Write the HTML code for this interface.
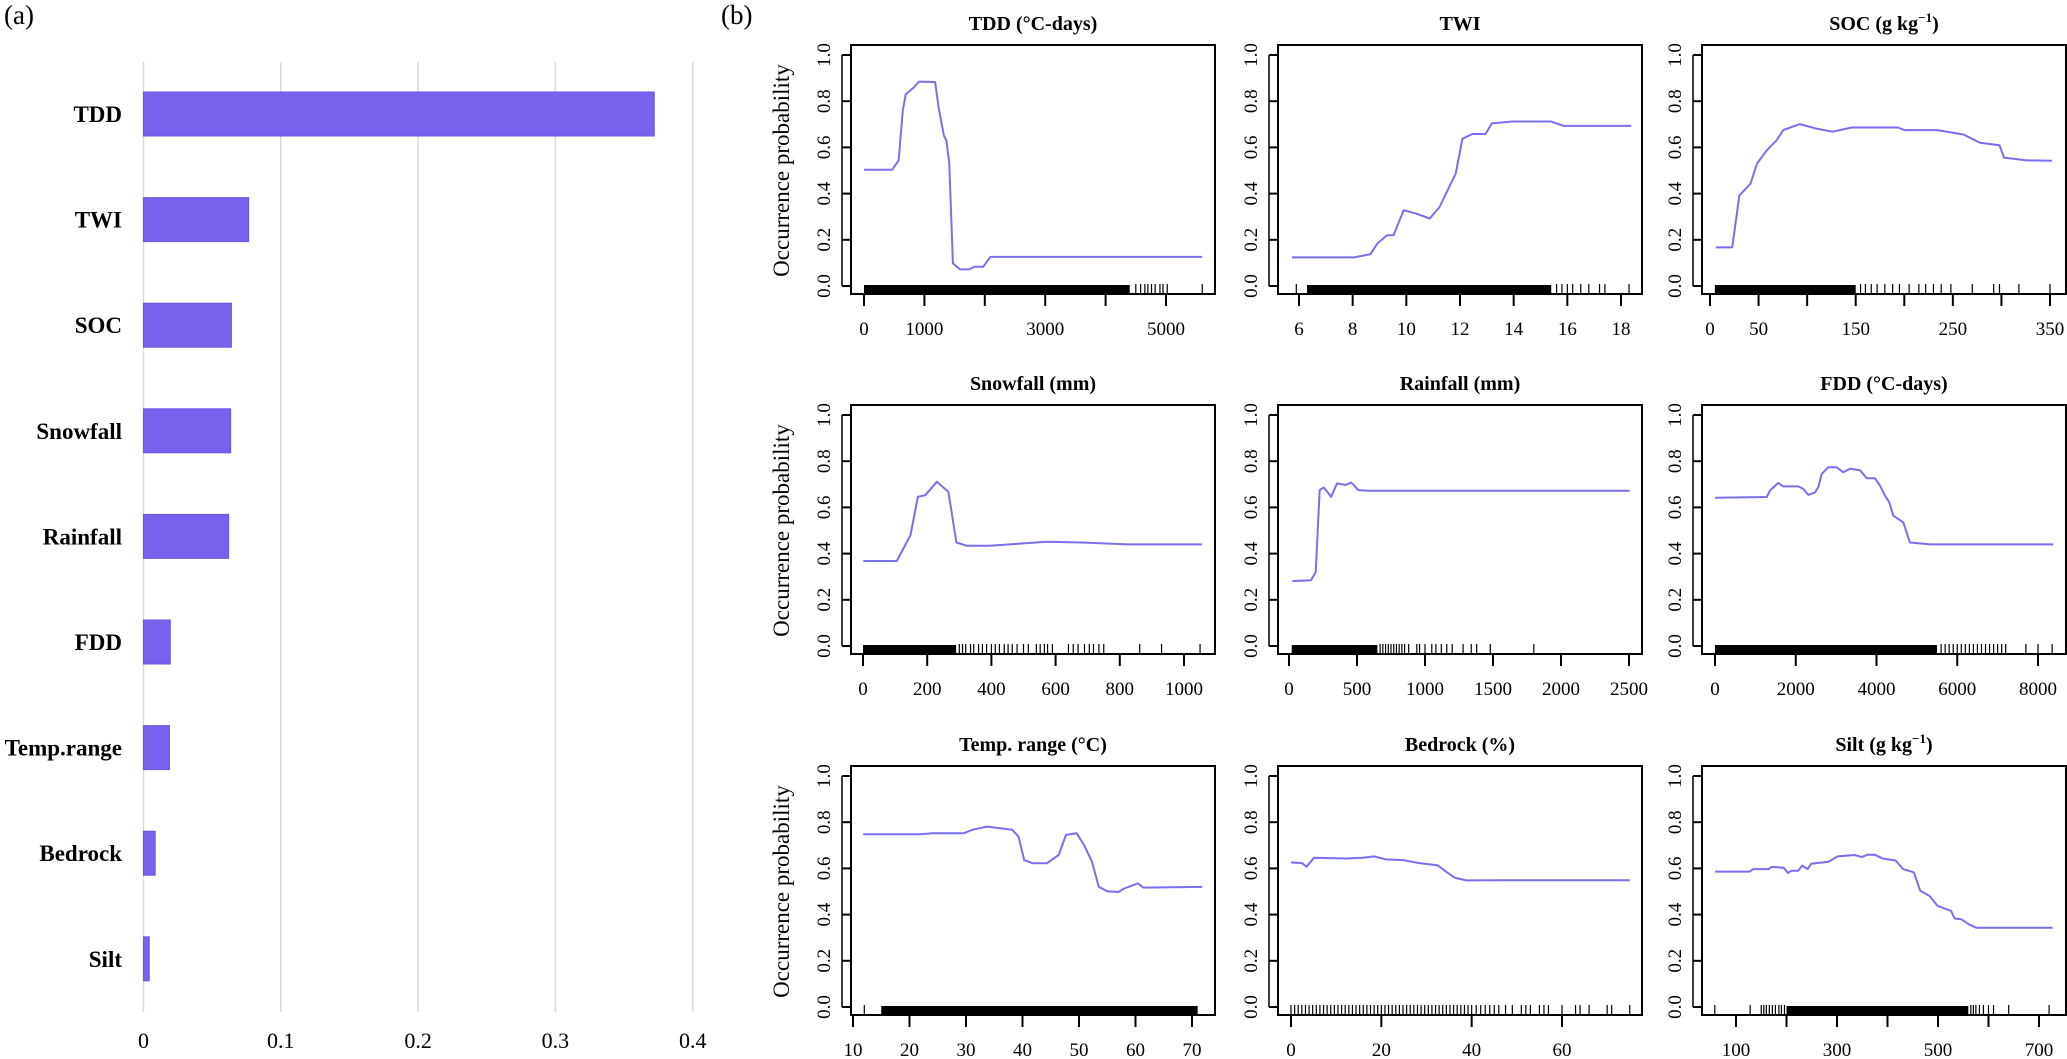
<!DOCTYPE html>
<html><head><meta charset="utf-8">
<style>
html,body{margin:0;padding:0;background:#fff;}
svg{display:block;font-family:"Liberation Serif",serif;}
</style></head>
<body>
<svg id="fig" width="2067" height="1059" viewBox="0 0 2067 1059" xmlns="http://www.w3.org/2000/svg">
<text x="4" y="24" font-size="27">(a)</text>
<text x="721" y="24" font-size="27">(b)</text>
<g id="barChart"></g>
<g id="pdp"></g>
</svg>
<script>
// ---------- (a) variable importance ----------
const barCategories = ["TDD","TWI","SOC","Snowfall","Rainfall","FDD","Temp.range","Bedrock","Silt"];
const barValues = [0.372, 0.0766, 0.064, 0.0635, 0.062, 0.0195, 0.0189, 0.0085, 0.0042];
const barTicks = [0, 0.1, 0.2, 0.3, 0.4];
const barTickLabels = ["0","0.1","0.2","0.3","0.4"];

// ---------- (b) partial dependence data ----------
const tddX = [0,465,573,643,690,821,909,1177,1235,1323,1364,1412,1472,1590,1737,1826,1974,2093,5600];
const tddY = [0.503,0.503,0.543,0.759,0.83,0.859,0.885,0.883,0.773,0.651,0.629,0.529,0.098,0.072,0.072,0.083,0.083,0.126,0.126];
const tddTicks = [0,1000,2000,3000,4000,5000];
const tddLabels = ["0","1000","","3000","","5000"];
const tddRugDense = [[0,4400]];
const tddRug = [4500,4580,4650,4700,4760,4820,4900,4950,5020,5600];

const twiX = [5.74,8.06,8.67,8.92,9.28,9.52,9.9,10.38,10.87,11.24,11.48,11.84,12.09,12.46,12.95,13.19,13.95,15.39,15.87,18.38];
const twiY = [0.124,0.124,0.138,0.184,0.22,0.22,0.328,0.313,0.292,0.342,0.4,0.486,0.637,0.658,0.658,0.704,0.712,0.712,0.693,0.693];
const twiTicks = [6,8,10,12,14,16,18];
const twiLabels = ["6","8","10","12","14","16","18"];
const twiRugDense = [[6.3,15.4]];
const twiRug = [5.9,15.6,15.8,16.0,16.2,16.5,16.8,17.2,17.4,18.3];

const socX = [6,22.9,30.3,41.7,48.4,58.6,68.7,75.5,92.3,109,126,146,193.4,200,234,261,278,298,302.7,325,352];
const socY = [0.167,0.167,0.392,0.443,0.53,0.588,0.631,0.675,0.701,0.682,0.668,0.686,0.686,0.675,0.675,0.656,0.62,0.609,0.556,0.544,0.542];
const socTicks = [0,50,100,150,200,250,300,350];
const socLabels = ["0","50","","150","","250","","350"];
const socRugDense = [[5,150]];
const socRug = [155,160,166,172,180,188,195,205,215,222,230,238,248,270,292,298,318,350];

const snowX = [1,105,126,148,171,194,230,266,291,323,394,573,681,824,1056];
const snowY = [0.368,0.368,0.422,0.48,0.646,0.653,0.711,0.667,0.448,0.434,0.434,0.451,0.448,0.44,0.44];
const snowTicks = [0,200,400,600,800,1000];
const snowLabels = ["0","200","400","600","800","1000"];
const snowRugDense = [[0,290]];
const snowRug = [300,310,320,335,345,360,372,385,400,412,425,440,452,465,480,500,515,540,552,565,575,590,640,655,670,690,705,718,735,750,862,930,1050];

const rainX = [24,162,196,226,255,310,353,415,458,509,585,2505];
const rainY = [0.281,0.285,0.32,0.675,0.686,0.646,0.704,0.697,0.708,0.675,0.672,0.672];
const rainTicks = [0,500,1000,1500,2000,2500];
const rainLabels = ["0","500","1000","1500","2000","2500"];
const rainRugDense = [[20,650]];
const rainRug = [670,690,710,730,750,770,790,810,830,850,880,940,960,1000,1050,1080,1120,1160,1200,1280,1340,1380,1480,1800];

const fddX = [2,1280,1362,1568,1692,2063,2187,2311,2477,2559,2642,2807,3013,3178,3343,3591,3757,3963,4087,4211,4318,4417,4664,4830,5325,8380];
const fddY = [0.642,0.645,0.673,0.706,0.691,0.691,0.68,0.654,0.665,0.687,0.745,0.774,0.774,0.752,0.767,0.761,0.726,0.726,0.694,0.651,0.622,0.564,0.535,0.448,0.44,0.44];
const fddTicks = [0,2000,4000,6000,8000];
const fddLabels = ["0","2000","4000","6000","8000"];
const fddRugDense = [[0,5500]];
const fddRug = [5600,5700,5800,5900,6000,6100,6200,6300,6400,6500,6600,6700,6800,6900,7000,7100,7200,7700,8000,8350];

const tempX = [11.8,22,24,29.6,31.1,33.7,38.2,39.3,40.3,41.8,44.3,46.4,47.7,49.6,50.9,52.3,53.5,55,57,58,60.4,61.4,71.8];
const tempY = [0.748,0.748,0.752,0.752,0.767,0.781,0.767,0.738,0.636,0.622,0.622,0.658,0.745,0.752,0.701,0.629,0.52,0.501,0.498,0.513,0.535,0.517,0.52];
const tempTicks = [10,20,30,40,50,60,70];
const tempLabels = ["10","20","30","40","50","60","70"];
const tempRugDense = [[15,71]];
const tempRug = [12];

const bedX = [0,2.5,3.4,5.1,12.1,15.9,18.4,21,24.8,28.6,32.4,34.3,36.2,38.8,46.4,75];
const bedY = [0.626,0.622,0.607,0.646,0.643,0.646,0.652,0.639,0.636,0.622,0.614,0.586,0.56,0.548,0.549,0.549];
const bedTicks = [0,20,40,60];
const bedLabels = ["0","20","40","60"];
const bedRugDense = [];
const bedRug = [0,0.8,1.6,2.4,3.2,4,4.8,5.6,6.4,7.2,8,8.8,9.6,10.4,11.2,12,12.8,13.6,14.4,15.2,16,16.8,17.6,18.4,19.2,20,20.8,21.6,22.4,23.2,24,24.8,25.6,26.4,27.2,28,28.8,29.6,30.4,31.2,32,32.8,33.6,34.4,35.2,36,36.8,37.6,38.4,39.2,40,41,42,43,44,45,46,47.5,49,51,52,53,55,56,57,60,63,64,66,70,71,75];

const siltX = [58.6,127,134,164,171,194,203,210,223,231,242,249,283,301,335,349,360,375,390,416,431,452,465,483,499,526,533,546,561,576,727];
const siltY = [0.586,0.586,0.597,0.597,0.606,0.603,0.58,0.59,0.59,0.612,0.597,0.62,0.629,0.652,0.658,0.649,0.659,0.659,0.643,0.634,0.597,0.583,0.503,0.481,0.438,0.416,0.383,0.38,0.358,0.343,0.343];
const siltTicks = [100,200,300,400,500,600,700];
const siltLabels = ["100","","300","","500","","700"];
const siltRugDense = [[200,560]];
const siltRug = [58,128,150,155,160,166,172,178,185,190,196,565,570,575,582,590,600,610,640,720];

const yTicks = [0,0.2,0.4,0.6,0.8,1.0];
const yTickLabels = ["0.0","0.2","0.4","0.6","0.8","1.0"];

const NS = "http://www.w3.org/2000/svg";
function mk(tag, attrs, parent){
  const e = document.createElementNS(NS, tag);
  for (const k in attrs) e.setAttribute(k, attrs[k]);
  parent.appendChild(e);
  return e;
}

// ---- bar chart ----
(function(){
  const g = document.getElementById('barChart');
  const x0 = 143.5, unit = 1373; // px per 1.0
  const xs = v => x0 + v*unit;
  const yTop = 114, step = 105.6, bh = 44;
  barTicks.forEach((t,i)=>{
    const l = mk('line',{x1:xs(t),x2:xs(t),y1:62,y2:1012,stroke:'#d9d9d9','stroke-width':1.5},g);
    
    
    const tx = mk('text',{x:xs(t),y:1048,'font-size':22,'text-anchor':'middle'},g);
    tx.textContent = barTickLabels[i];
    
    
  });
  barCategories.forEach((c,i)=>{
    const cy = yTop + i*step;
    const r = mk('rect',{x:xs(0),y:cy-bh/2,width:xs(barValues[i])-xs(0),height:bh,fill:'#7762EE',stroke:'#6a55e8','stroke-width':1},g);
    
    
    const t = mk('text',{x:122,y:cy+8,'font-size':23,'font-weight':'bold','text-anchor':'end'},g);
    t.textContent = c;
    
    
  });
})();

// ---- partial dependence panels ----
const panels = [
  {title:'TDD (°C-days)', xs:tddX, ys:tddY, ticks:tddTicks, labels:tddLabels, dense:tddRugDense, rug:tddRug},
  {title:'TWI', xs:twiX, ys:twiY, ticks:twiTicks, labels:twiLabels, dense:twiRugDense, rug:twiRug},
  {title:'SOC (g kg', sup:true, xs:socX, ys:socY, ticks:socTicks, labels:socLabels, dense:socRugDense, rug:socRug},
  {title:'Snowfall (mm)', xs:snowX, ys:snowY, ticks:snowTicks, labels:snowLabels, dense:snowRugDense, rug:snowRug},
  {title:'Rainfall (mm)', xs:rainX, ys:rainY, ticks:rainTicks, labels:rainLabels, dense:rainRugDense, rug:rainRug},
  {title:'FDD (°C-days)', xs:fddX, ys:fddY, ticks:fddTicks, labels:fddLabels, dense:fddRugDense, rug:fddRug},
  {title:'Temp. range (°C)', xs:tempX, ys:tempY, ticks:tempTicks, labels:tempLabels, dense:tempRugDense, rug:tempRug},
  {title:'Bedrock (%)', xs:bedX, ys:bedY, ticks:bedTicks, labels:bedLabels, dense:bedRugDense, rug:bedRug},
  {title:'Silt (g kg', sup:true, xs:siltX, ys:siltY, ticks:siltTicks, labels:siltLabels, dense:siltRugDense, rug:siltRug}
];
// layout: pixel calibration per panel [value a, px a, value b, px b]
const layoutCal = [[0,864,5000,1166],[6,1299,18,1621],[0,1710,350,2050],
                   [0,863,1000,1184],[0,1289,2500,1629],[0,1715,8000,2038],
                   [10,853,70,1192],[0,1291,60,1562],[100,1736,700,2039]];
const colLeft = [851,1278,1702], rowTop = [45,405,766], boxW = 364, boxH = 249;

(function(){
  const root = document.getElementById('pdp');
  panels.forEach((p,i)=>{
    const col = i%3, row = Math.floor(i/3);
    const L = colLeft[col], T = rowTop[row], B = T+boxH;
    const cal = layoutCal[i];
    const sx = v => cal[1] + (v-cal[0])*(cal[3]-cal[1])/(cal[2]-cal[0]);
    const y0 = T+241, y1 = T+10;
    const sy = v => y0 + (y1-y0)*v;
    const g = mk('g',{},root);
    
    
    // title
    const t = mk('text',{x:L+boxW/2,y:T-15,'font-size':20,'font-weight':'bold','text-anchor':'middle'},g);
    
    
    if (p.sup){
      t.appendChild(document.createTextNode(p.title));
      const s = mk('tspan',{dy:-8,'font-size':13},t); s.textContent='−1';
      const c = mk('tspan',{dy:8},t); c.textContent=')';
    } else t.textContent = p.title;
    // rug dense
    p.dense.forEach(d=>{
      const r = mk('rect',{x:sx(d[0]),y:B-9,width:sx(d[1])-sx(d[0]),height:9,fill:'#000'},g);
      
      
    });
    p.rug.forEach(v=>{
      const l = mk('line',{x1:sx(v),x2:sx(v),y1:B-10,y2:B,stroke:'#000','stroke-width':1.2},g);
      
      
    });
    // box
    const bx = mk('rect',{x:L,y:T,width:boxW,height:boxH,fill:'none',stroke:'#000','stroke-width':2},g);
    
    
    // x axis
    p.ticks.forEach((v,k)=>{
      const l = mk('line',{x1:sx(v),x2:sx(v),y1:B,y2:B+12,stroke:'#000','stroke-width':2},g);
      
      
      if (p.labels[k]){
        const tx = mk('text',{x:sx(v),y:T+290,'font-size':19,'text-anchor':'middle'},g);
        tx.textContent = p.labels[k];
        
        
      }
    });
    // y axis
    const ya = mk('line',{x1:L-9,x2:L-9,y1:sy(0),y2:sy(1),stroke:'#000','stroke-width':1.5},g);
    
    
    yTicks.forEach((v,k)=>{
      const l = mk('line',{x1:L-9,x2:L,y1:sy(v),y2:sy(v),stroke:'#000','stroke-width':2},g);
      
      
      const tx = mk('text',{x:0,y:0,'font-size':19,'text-anchor':'middle',transform:`translate(${L-21},${sy(v)}) rotate(-90)`},g);
      tx.textContent = yTickLabels[k];
      
      
    });
    if (col===0){
      const yl = mk('text',{x:0,y:0,'font-size':23,'text-anchor':'middle',transform:`translate(${L-62},${(sy(0)+sy(1))/2}) rotate(-90)`},g);
      yl.textContent = 'Occurrence probability';
      
      
    }
    // line
    const d = p.xs.map((v,k)=>(k?'L':'M')+sx(v).toFixed(1)+','+sy(p.ys[k]).toFixed(1)).join(' ');
    const pl = mk('path',{d:d,fill:'none',stroke:'#7a6ef2','stroke-width':2,'stroke-linejoin':'round'},g);
    
    
  });
})();
</script>
</body></html>
